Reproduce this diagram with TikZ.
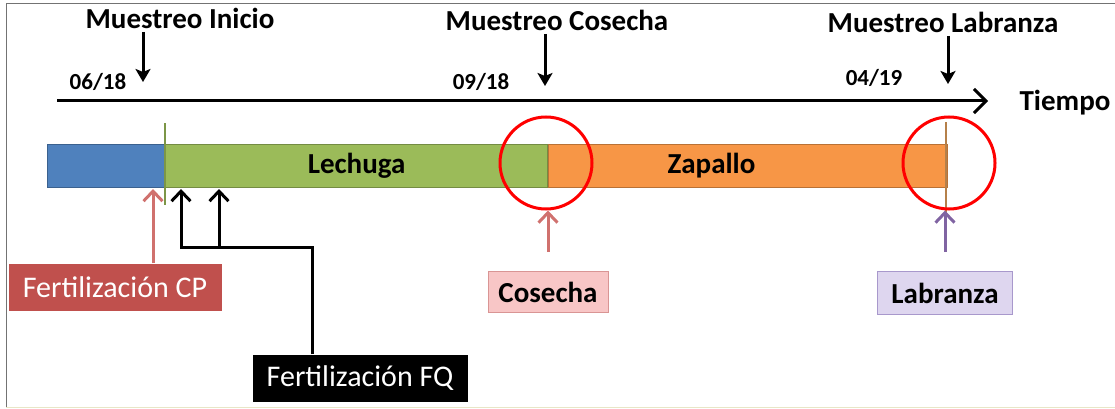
\documentclass[tikz,border=0pt]{standalone}
\usepackage{fontspec}
\setmainfont{Carlito}
\usetikzlibrary{positioning,arrows.meta}

\definecolor{blueseg}{HTML}{4F81BD}
\definecolor{greenseg}{HTML}{9BBB59}
\definecolor{orangeseg}{HTML}{F79646}
\definecolor{cpred}{HTML}{C0504D}
\definecolor{cparrow}{HTML}{D0716E}
\definecolor{cosfill}{HTML}{F8C6C6}
\definecolor{cosdraw}{HTML}{D99594}
\definecolor{labfill}{HTML}{DED6EF}
\definecolor{labdraw}{HTML}{A898CC}
\definecolor{labarrow}{HTML}{8064A2}
\definecolor{cutbrown}{HTML}{B5804A}

\begin{document}
\begin{tikzpicture}[x=1pt,y=-1pt,
  lbl/.style={font=\fontsize{29}{33}\selectfont\bfseries},
  datelbl/.style={font=\fontsize{23}{27}\selectfont\bfseries},
  seg/.style={rectangle, minimum height=43pt, inner sep=0pt, draw=#1!75!black, fill=#1, font=\fontsize{29}{33}\selectfont\bfseries},
  tag/.style={rectangle, minimum height=47pt, text centered, font=\fontsize{30}{34}\selectfont},
  ring/.style={circle, minimum size=92pt, inner sep=0pt, draw=red, line width=3pt},
  dnarrow/.style={line width=3pt, -{Stealth[length=13pt,width=15pt,inset=3pt]}},
  uparrow/.style={line width=3pt, -{Straight Barb[length=10pt,width=19pt]}}]

\useasboundingbox (0,0) rectangle (1115,409);

% frame
\draw[black!55, line width=1pt] (6,407) -- (6,4) -- (1115,4);
\draw[yellow!40!gray!35, line width=0.8pt] (6,407) -- (1115,407);

% time axis
\coordinate (t0) at (57,101);
\coordinate (t1) at (988,101);
\draw[line width=3pt, -{Straight Barb[length=12pt,width=24pt]}] (t0) -- (t1);
\node (tiempo) [lbl] at (1065,103) {Tiempo};

% sampling labels and dates
\node (mini) [lbl] at (180,18) {Muestreo Inicio};
\node (mcos) [lbl] at (557,20) {Muestreo Cosecha};
\node (mlab) [lbl] at (943,22) {Muestreo Labranza};

\node (d1) [datelbl] at (98,82) {06/18};
\node (d2) [datelbl] at (481,82) {09/18};
\node (d3) [datelbl] at (874,78) {04/19};

\coordinate (p1) at (143,82);
\coordinate (p2) at (545,86);
\coordinate (p3) at (948,84);
\draw[dnarrow] (mini.south -| p1) -- (p1);
\draw[dnarrow] (mcos.south -| p2) -- (p2);
\draw[dnarrow] (mlab.south -| p3) -- (p3);

% crop bar
\node (ini) [seg=blueseg, minimum width=118pt, anchor=north west] at (47,144) {};
\node (lech) [seg=greenseg, minimum width=382pt, anchor=west] at (ini.east) {Lechuga};
\node (zap) [seg=orangeseg, minimum width=399pt, anchor=west] at (lech.east) {};
\node (zaptxt) [font=\fontsize{29}{33}\selectfont\bfseries] at ([xshift=-36pt]zap.center) {Zapallo};

\draw[greenseg!80!black, line width=1.5pt] (165,123) -- (165,205);
\draw[cutbrown, line width=1.5pt] (946,122) -- (946,222);

\node (c1) [ring] at (546,163) {};
\node (c2) [ring] at (949,163) {};

% events
\node (cp) [tag, fill=cpred, text=white, minimum width=213pt] at (115,287) {Fertilización CP};
\node (fq) [tag, fill=black, text=white, minimum width=215pt] at (360,378) {Fertilización FQ};
\node (cos) [tag, fill=cosfill, draw=cosdraw, line width=1pt, minimum width=120pt, minimum height=41pt, font=\fontsize{29}{33}\selectfont\bfseries] at (548,292) {Cosecha};
\node (lab) [tag, fill=labfill, draw=labdraw, line width=1pt, minimum width=135pt, minimum height=43pt, font=\fontsize{29}{33}\selectfont\bfseries] at (945,293) {Labranza};

\coordinate (a1) at (153,189);
\coordinate (f1) at (181,189);
\coordinate (f2) at (219,189);
\coordinate (j) at (312,247);

\draw[uparrow, cparrow] (cp.north -| a1) -- (a1);
\draw[uparrow] (fq.north -| j) -- (j) -- (f1 |- j) -- (f1);
\draw[uparrow] (f2 |- j) -- (f2);
\draw[uparrow, cparrow, shorten <=19pt] (cos.north) -- (cos.north |- c1.south);
\draw[uparrow, labarrow, shorten <=19pt] (lab.north) -- (lab.north |- c2.south);

\end{tikzpicture}
\end{document}
